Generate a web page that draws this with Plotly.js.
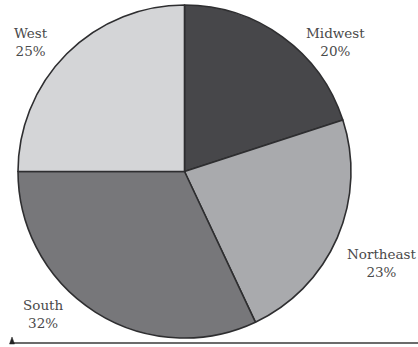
<!DOCTYPE html>
<html>
<head>
<meta charset="utf-8">
<script src="https://cdn.plot.ly/plotly-3.0.1.min.js"></script>
<style>html,body{margin:0;padding:0;background:#fff;}#chart{width:418px;height:347px;}</style>
</head>
<body>
<div id="chart"></div>
<script>
const regions = ["Midwest", "Northeast", "South", "West"];
const shares = [20, 23, 32, 25];
const sliceColors = ["#47474a", "#a9aaad", "#77777a", "#d4d5d7"];
// label anchor positions (paper fraction) for each region's outside label
const labelX = [335/418, 381/418, 43/418, 31/418];
const labelY = [1-42/347, 1-263/347, 1-314/347, 1-42/347];

const W = 418, H = 347;
const cx = 184.5, cy = 171.5, r = 166.5;

const trace = {
  type: "pie",
  labels: regions,
  values: shares,
  sort: false,
  direction: "clockwise",
  rotation: 0,
  textinfo: "none",
  hoverinfo: "label+percent",
  marker: {colors: sliceColors, line: {color: "#2e2e30", width: 1.6}},
  domain: {x: [(cx-r)/W, (cx+r)/W], y: [1-(cy+r)/H, 1-(cy-r)/H]},
  showlegend: false
};

const annotations = regions.map((name, i) => ({
  xref: "paper", yref: "paper",
  x: labelX[i], y: labelY[i],
  xanchor: "center", yanchor: "middle",
  text: name + "<br>" + shares[i] + "%",
  showarrow: false,
  font: {family: "DejaVu Serif", size: 13.5, color: "#4a4a4a"}
}));

const layout = {
  width: W, height: H,
  margin: {l: 0, r: 0, t: 0, b: 0},
  font: {family: "DejaVu Serif"},
  paper_bgcolor: "#ffffff",
  plot_bgcolor: "#ffffff",
  annotations: annotations,
  shapes: [
    {type: "line", xref: "paper", yref: "paper", x0: 12/W, x1: 1, y0: 1-343/H, y1: 1-343/H,
     line: {color: "#3a3a3a", width: 1.5}},
    {type: "path", xref: "paper", yref: "paper",
     path: `M ${9.5/W} ${1-344/H} L ${14.5/W} ${1-344/H} L ${12/W} ${1-337/H} Z`,
     fillcolor: "#222", line: {color: "#222", width: 0.5}}
  ]
};

Plotly.newPlot("chart", [trace], layout, {staticPlot: true, displayModeBar: false});
</script>
</body>
</html>
